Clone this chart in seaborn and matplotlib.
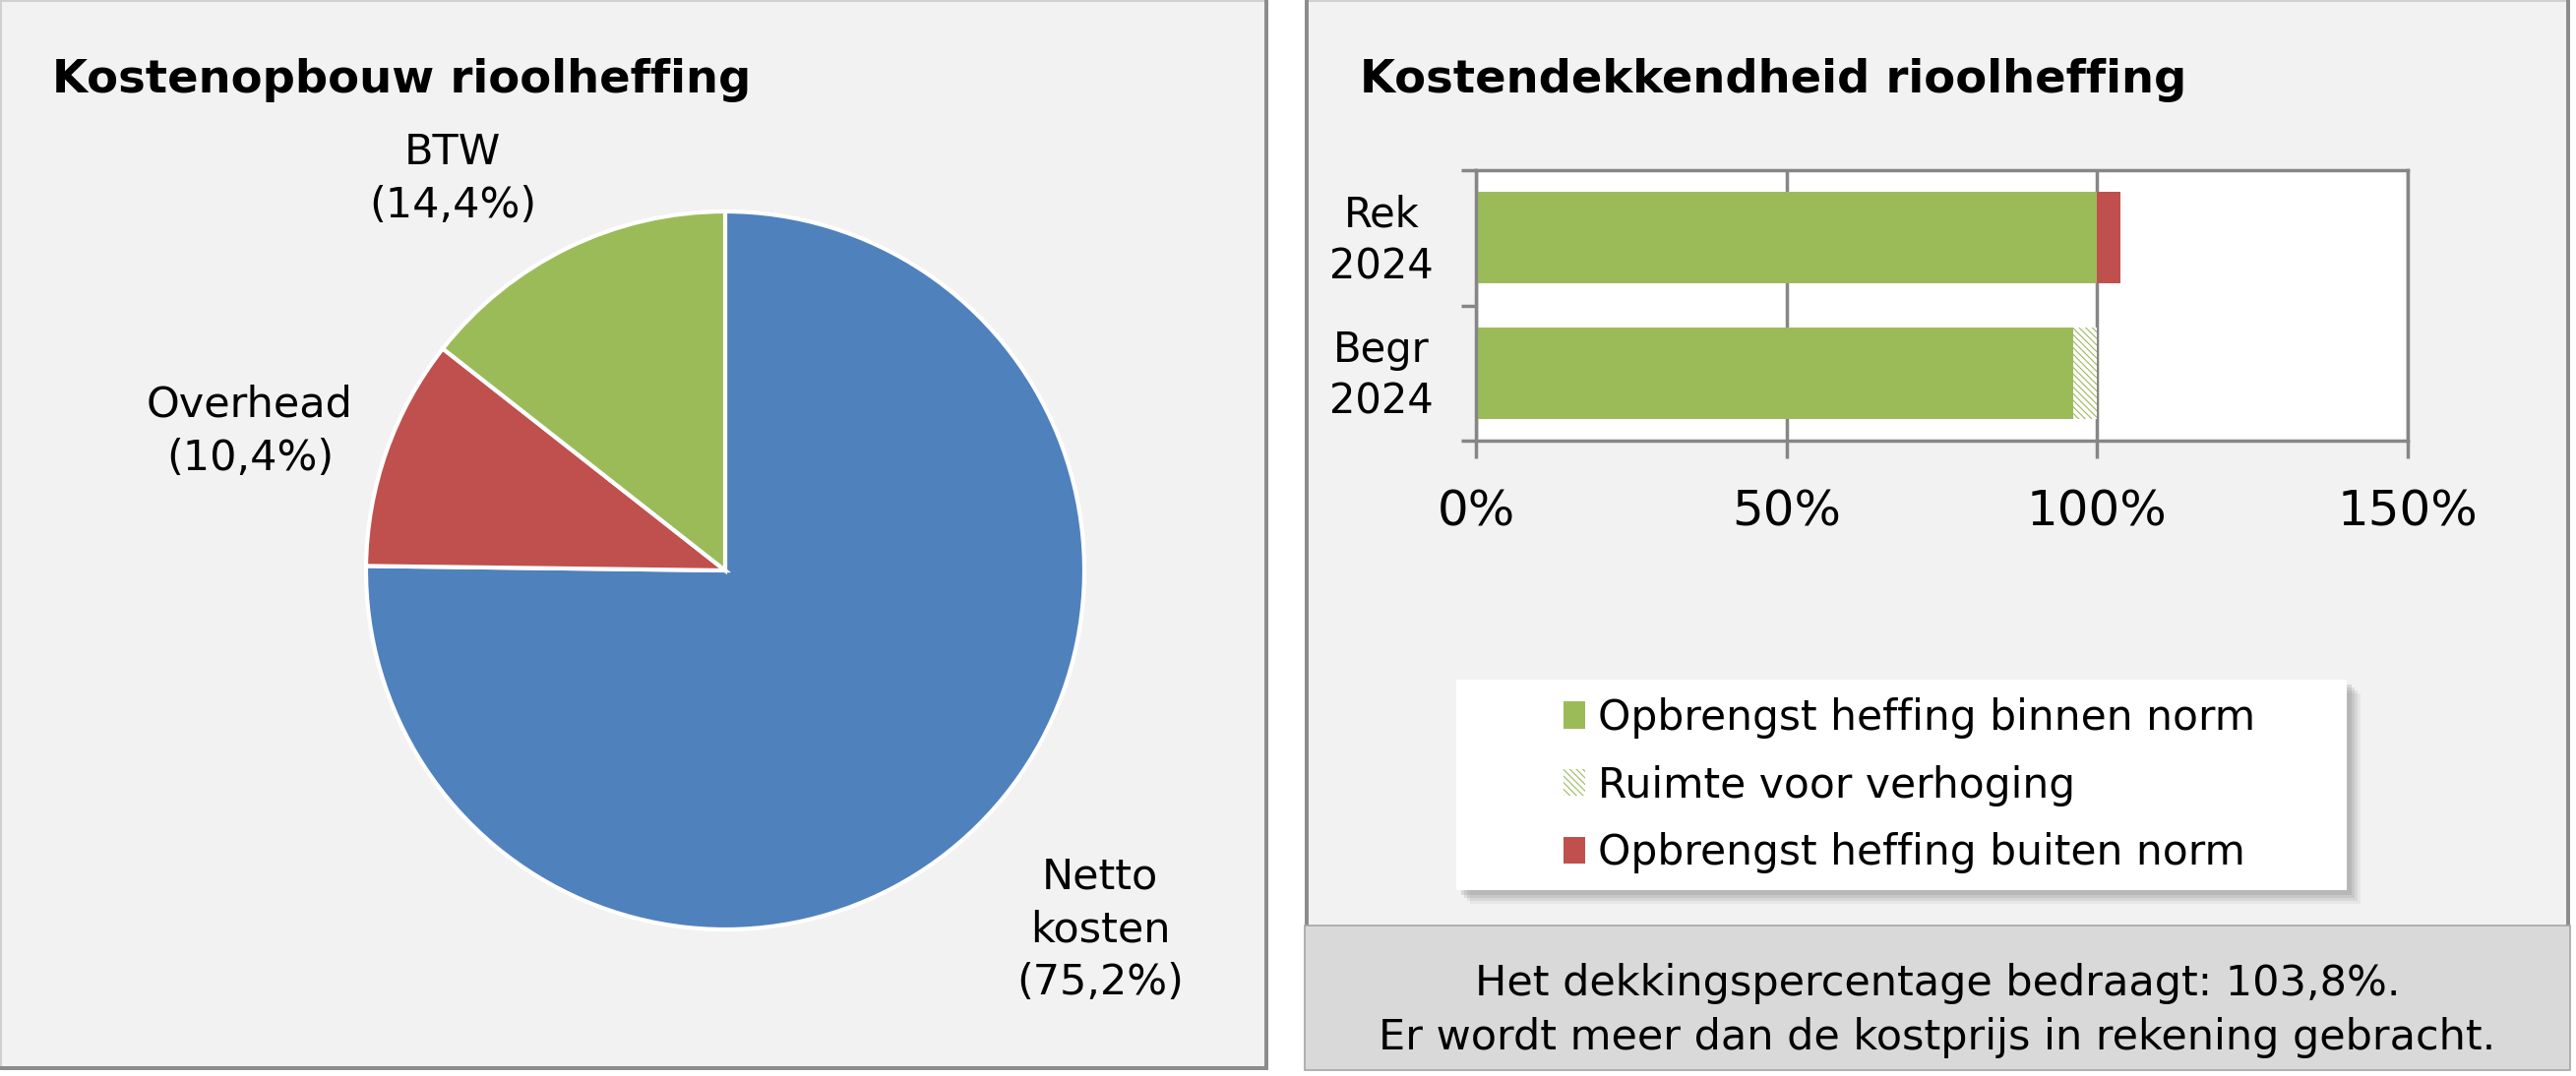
import matplotlib
matplotlib.use("Agg")
import matplotlib.pyplot as plt
import matplotlib.transforms as mtransforms
import seaborn as sns
import pandas as pd
from matplotlib.patches import Rectangle, Patch

# ---------------- data ----------------
title_left = "Kostenopbouw rioolheffing"
title_right = "Kostendekkendheid rioolheffing"

pie_names = ["Netto\nkosten", "Overhead", "BTW"]
pie_values = [75.2, 10.4, 14.4]
pie_colors = ["#4f81bd", "#c0504d", "#9bbb59"]

bar_categories = ["Rek\n2024", "Begr\n2024"]
binnen_norm = [100.0, 96.1]
ruimte_verhoging = [0.0, 3.9]
buiten_norm = [3.8, 0.0]
x_ticks = [0, 50, 100, 150]

legend_labels = ["Opbrengst heffing binnen norm", "Ruimte voor verhoging",
                 "Opbrengst heffing buiten norm"]
note_lines = ["Het dekkingspercentage bedraagt: 103,8%.",
              "Er wordt meer dan de kostprijs in rekening gebracht."]

GREEN = "#9bbb59"
RED = "#c0504d"
GRAY = "#868686"
PANEL = "#f2f2f2"

plt.rcParams["font.family"] = ["DejaVu Sans"]
plt.rcParams["hatch.linewidth"] = 0.8

W, H = 2618, 1094
fig = plt.figure(figsize=(W / 100, H / 100), dpi=100, facecolor="white")


def fx(x):
    return x / W


def fy(y):
    return 1 - y / H


def add_rect(x0, y0, x1, y1, **kw):
    r = Rectangle((fx(x0), fy(y1)), fx(x1) - fx(x0), fy(y0) - fy(y1),
                  transform=fig.transFigure, **kw)
    fig.add_artist(r)
    return r


# ---------------- panels ----------------
add_rect(0, 0, 1289, 1088, facecolor=PANEL, edgecolor="none", zorder=-10)
add_rect(0, 0, 1289, 2, facecolor="#d0d0d0", edgecolor="none", zorder=-9)
add_rect(0, 0, 2, 1088, facecolor="#d0d0d0", edgecolor="none", zorder=-9)
add_rect(1285, 0, 1289, 1088, facecolor="#8c8c8c", edgecolor="none", zorder=-9)
add_rect(0, 1084, 1289, 1088, facecolor="#8c8c8c", edgecolor="none", zorder=-9)

add_rect(1326, 0, 2612, 1088, facecolor=PANEL, edgecolor="none", zorder=-10)
add_rect(1326, 0, 2612, 2, facecolor="#d0d0d0", edgecolor="none", zorder=-9)
add_rect(1326, 0, 1330, 941, facecolor="#8c8c8c", edgecolor="none", zorder=-9)
add_rect(2608, 0, 2612, 941, facecolor="#8c8c8c", edgecolor="none", zorder=-9)
add_rect(1326, 941, 2612, 1088, facecolor="#d9d9d9", edgecolor="#a6a6a6",
         linewidth=1.2, zorder=-8)

# ---------------- titles ----------------
fig.text(fx(53), fy(94), title_left, fontsize=33.5, fontweight="bold",
         va="baseline", ha="left")
fig.text(fx(1382), fy(94), title_right, fontsize=33.5, fontweight="bold",
         va="baseline", ha="left")

# ---------------- pie ----------------
cx, cy, r = 737, 580, 365
axp = fig.add_axes([fx(cx - r), fy(cy + r), (2 * r) / W, (2 * r) / H])
axp.set_facecolor("none")
axp.pie(pie_values, colors=pie_colors, startangle=90, counterclock=False,
        radius=1.0, wedgeprops=dict(edgecolor="white", linewidth=3))
axp.set_xlim(-1, 1)
axp.set_ylim(-1, 1)
axp.axis("off")

# label layout (pixel centre x, first baseline y)
label_layout = [(1118, 903), (254, 424), (460, 167)]
for name, val, (lx, ly) in zip(pie_names, pie_values, label_layout):
    lines = name.split("\n") + ["(" + f"{val:.1f}".replace(".", ",") + "%)"]
    for i, line in enumerate(lines):
        fig.text(fx(lx), fy(ly + 54 * i), line, fontsize=31, ha="center",
                 va="baseline")

# ---------------- bars ----------------
axb = fig.add_axes([fx(1500), fy(448), (2447 - 1500) / W, (448 - 173) / H])
axb.set_facecolor("white")
df = pd.DataFrame({"cat": bar_categories, "binnen": binnen_norm,
                   "ruimte": ruimte_verhoging, "buiten": buiten_norm})
df["tot_ruimte"] = df["binnen"] + df["ruimte"]
df["tot_all"] = df["tot_ruimte"] + df["buiten"]

bw = 0.676
sns.barplot(data=df, x="tot_all", y="cat", orient="h", color=RED,
            saturation=1, width=bw, errorbar=None, linewidth=0, ax=axb)
sns.barplot(data=df, x="tot_ruimte", y="cat", orient="h", color="white",
            saturation=1, width=bw, errorbar=None, linewidth=0,
            edgecolor=GREEN, hatch="\\\\\\\\\\", ax=axb)
sns.barplot(data=df, x="binnen", y="cat", orient="h", color=GREEN,
            saturation=1, width=bw, errorbar=None, linewidth=0, ax=axb)

axb.set_xlim(0, 150)
axb.set_ylim(1.5, -0.5)
axb.set_xticks(x_ticks)
axb.set_xticklabels([f"{t}%" for t in x_ticks])
axb.set_xlabel("")
axb.set_ylabel("")
for s in axb.spines.values():
    s.set_visible(True)
    s.set_color(GRAY)
    s.set_linewidth(2.5)
axb.grid(axis="x", color=GRAY, linewidth=2.5)
axb.grid(axis="y", visible=False)
axb.set_axisbelow(True)
axb.tick_params(axis="x", which="major", bottom=True, length=13, width=2.5,
                color=GRAY, pad=22, labelsize=36)
axb.set_yticks([-0.5, 0.5, 1.5], minor=True)
axb.tick_params(axis="y", which="major", left=True, length=0, pad=31,
                labelsize=30)
axb.tick_params(axis="y", which="minor", left=True, length=11, width=2.5,
                color=GRAY)
shift_up = mtransforms.ScaledTranslation(0, 5 / 72, fig.dpi_scale_trans)
for lbl in axb.get_yticklabels():
    lbl.set_multialignment("center")
    lbl.set_linespacing(1.33)
    lbl.set_transform(lbl.get_transform() + shift_up)

# ---------------- legend ----------------
lx0, ly0, lx1, ly1 = 1480, 691, 2385, 905
for off, a in [(14, 0.10), (11, 0.14), (8, 0.18), (5, 0.22)]:
    add_rect(lx0 + off, ly0 + off, lx1 + off, ly1 + off, facecolor="#808080",
             edgecolor="none", alpha=a, zorder=1.5)
add_rect(lx0, ly0, lx1, ly1, facecolor="white", edgecolor="none", zorder=2)

handles = [Patch(facecolor=GREEN, edgecolor="none"),
           Patch(facecolor="white", edgecolor=GREEN, hatch="\\\\\\\\\\",
                 linewidth=0),
           Patch(facecolor=RED, edgecolor="none")]
fig.legend(handles, legend_labels, loc="upper left",
           bbox_to_anchor=(fx(1589), fy(709)), bbox_transform=fig.transFigure,
           frameon=False, borderpad=0, borderaxespad=0, fontsize=30.5,
           handlelength=0.52, handleheight=0.61, handletextpad=0.31,
           labelspacing=0.63)

# ---------------- note ----------------
for i, line in enumerate(note_lines):
    fig.text(fx(1969), fy(1012 + 55 * i), line, fontsize=31, ha="center",
             va="baseline")

fig.savefig("out.png", dpi=100, facecolor="white")
